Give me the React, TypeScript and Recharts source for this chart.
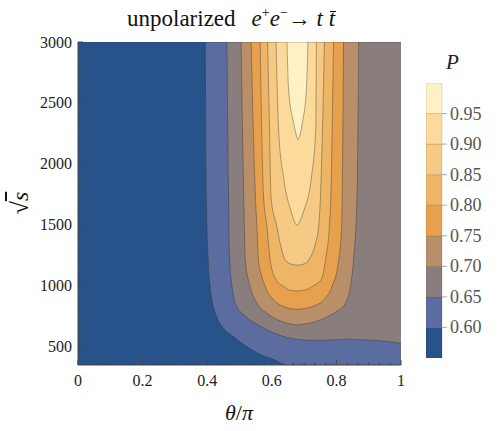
import { ComposedChart, Area, XAxis, YAxis, BarChart, Bar } from 'recharts';

const SERIF = 'Liberation Serif, Times New Roman, serif';
const FRAME = '#444';

const S_MIN = 350;
const S_MAX = 3000;

const xMajorTicks = [0, 0.2, 0.4, 0.6, 0.8, 1];
const yMajorTicks = [500, 1000, 1500, 2000, 2500, 3000];
const xMinorStep = 1 / 30;
const yMinorStep = 100;

// contour levels of P and the colour of each band between them
const levels = [0.55, 0.6, 0.65, 0.7, 0.75, 0.8, 0.85, 0.9, 0.95, 1.0];
const legendTicks = [0.6, 0.65, 0.7, 0.75, 0.8, 0.85, 0.9, 0.95];
const bandColors = ['#27538a', '#5b6ca0', '#8a7d7e', '#b98f6a', '#e7a14e', '#efb566', '#f6c985', '#fcda9c', '#fff1c4'];

// contour lines [theta/pi, sqrt(s)], read left to right along each curve
const contour60 = [
  [0.394, 3000], [0.397, 1796], [0.403, 1224], [0.41, 963], [0.419, 832], [0.431, 734],
  [0.45, 652], [0.481, 583], [0.524, 497], [0.571, 428], [0.614, 387], [0.642, 350], [1.0, 350],
];
const contour65 = [
  [0.461, 3000], [0.466, 1755], [0.469, 1248], [0.478, 979], [0.487, 856], [0.518, 750],
  [0.558, 677], [0.601, 619], [0.657, 570], [0.698, 556], [0.76, 552], [0.83, 562],
  [0.89, 555], [0.95, 545], [1.0, 527],
];
const contour70 = [
  [0.505, 3000], [0.513, 1755], [0.518, 1210], [0.533, 993], [0.554, 856], [0.585, 774],
  [0.632, 706], [0.655, 688], [0.678, 679], [0.705, 687], [0.735, 706], [0.791, 774],
  [0.828, 856], [0.843, 993], [0.853, 1210], [0.864, 1755], [0.869, 3000],
];
const contour75 = [
  [0.536, 3000], [0.549, 1755], [0.554, 1483], [0.559, 1210], [0.58, 993], [0.606, 883],
  [0.637, 829], [0.658, 812], [0.678, 807], [0.7, 812], [0.724, 829], [0.76, 883],
  [0.786, 993], [0.807, 1210], [0.816, 1483], [0.818, 1755], [0.822, 3000],
];
const contour80 = [
  [0.564, 3000], [0.574, 1755], [0.585, 1483], [0.595, 1210], [0.611, 1060], [0.637, 993],
  [0.657, 963], [0.678, 957], [0.7, 963], [0.724, 993], [0.755, 1060], [0.766, 1210],
  [0.778, 1483], [0.783, 1755], [0.791, 3000],
];
const contour85 = [
  [0.587, 3000], [0.592, 2400], [0.598, 1714], [0.616, 1483], [0.626, 1346], [0.642, 1210],
  [0.66, 1178], [0.679, 1169], [0.698, 1178], [0.714, 1210], [0.735, 1346], [0.745, 1483],
  [0.751, 1755], [0.758, 2400], [0.763, 3000],
];
const contour90 = [
  [0.613, 3000], [0.621, 2285], [0.637, 1877], [0.66, 1608], [0.668, 1540], [0.678, 1496],
  [0.689, 1540], [0.698, 1608], [0.722, 1877], [0.736, 2285], [0.738, 3000],
];
const contour95 = [
  [0.647, 3000], [0.652, 2612], [0.667, 2343], [0.675, 2245], [0.681, 2198], [0.688, 2245],
  [0.695, 2343], [0.707, 2612], [0.712, 3000],
];

const contours = [contour60, contour65, contour70, contour75, contour80, contour85, contour90, contour95];

const toRegion = (pts: number[][]) => pts.map(([t, s]) => ({ t, r: [s, S_MAX] }));
const background = [
  { t: 0, r: [S_MIN, S_MAX] },
  { t: 1, r: [S_MIN, S_MAX] },
];

const xTicks = Array.from({ length: Math.round(1 / xMinorStep) + 1 }, (_, i) => i * xMinorStep);
const yTicks = Array.from({ length: (S_MAX - 400) / yMinorStep + 1 }, (_, i) => 400 + i * yMinorStep);

const findMajor = (v: number, majors: number[]) => majors.find((m) => Math.abs(m - v) < 1e-6);

const labelStyle = { fontFamily: SERIF, fontSize: 16 };

function BottomTick({ x, y, payload }: any) {
  const m = findMajor(payload.value, xMajorTicks);
  return (
    <g>
      <line x1={x} x2={x} y1={y} y2={y - (m !== undefined ? 5 : 2.5)} stroke={FRAME} />
      {m !== undefined && (
        <text x={x} y={y + 21} textAnchor="middle" fill="#222" style={labelStyle}>
          {String(m)}
        </text>
      )}
    </g>
  );
}

function TopTick({ x, y, payload }: any) {
  const m = findMajor(payload.value, xMajorTicks);
  return <line x1={x} x2={x} y1={y} y2={y + (m !== undefined ? 5 : 2.5)} stroke={FRAME} />;
}

function LeftTick({ x, y, payload }: any) {
  const m = findMajor(payload.value, yMajorTicks);
  return (
    <g>
      <line x1={x} x2={x + (m !== undefined ? 5 : 2.5)} y1={y} y2={y} stroke={FRAME} />
      {m !== undefined && (
        <text x={x - 6} y={y + 5.5} textAnchor="end" fill="#222" style={labelStyle}>
          {String(m)}
        </text>
      )}
    </g>
  );
}

function RightTick({ x, y, payload }: any) {
  const m = findMajor(payload.value, yMajorTicks);
  return <line x1={x} x2={x - (m !== undefined ? 5 : 2.5)} y1={y} y2={y} stroke={FRAME} />;
}

function LegendTick({ x, y, payload }: any) {
  return (
    <text x={x} y={y + 6} textAnchor="start" fill="#555" style={{ fontFamily: SERIF, fontSize: 18 }}>
      {Number(payload.value).toFixed(2)}
    </text>
  );
}

const legendRow = [
  Object.fromEntries(
    bandColors.map((_, i) => [`b${i}`, i === 0 ? levels[1] : levels[i + 1] - levels[i]]),
  ),
];

export default function App() {
  return (
    <div style={{ position: 'absolute', left: 0, top: 0, width: 498, height: 431, background: '#fff', fontFamily: SERIF }}>
      <ComposedChart width={498} height={431} margin={{ top: 42, right: 97, bottom: 0, left: 0 }}>
        <XAxis
          dataKey="t"
          type="number"
          domain={[0, 1]}
          allowDataOverflow
          ticks={xTicks}
          interval={0}
          tick={BottomTick}
          tickSize={0}
          tickMargin={0}
          tickLine={false}
          axisLine={{ stroke: FRAME }}
          height={66}
        />
        <XAxis
          xAxisId="top"
          orientation="top"
          type="number"
          domain={[0, 1]}
          allowDataOverflow
          ticks={xTicks}
          interval={0}
          tick={TopTick}
          tickSize={0}
          tickMargin={0}
          tickLine={false}
          axisLine={{ stroke: FRAME }}
          height={0}
        />
        <YAxis
          type="number"
          domain={[S_MIN, S_MAX]}
          allowDataOverflow
          ticks={yTicks}
          interval={0}
          tick={LeftTick}
          tickSize={0}
          tickMargin={0}
          tickLine={false}
          axisLine={{ stroke: FRAME }}
          width={78}
        />
        <YAxis
          yAxisId="right"
          orientation="right"
          type="number"
          domain={[S_MIN, S_MAX]}
          allowDataOverflow
          ticks={yTicks}
          interval={0}
          tick={RightTick}
          tickSize={0}
          tickMargin={0}
          tickLine={false}
          axisLine={{ stroke: FRAME }}
          width={0}
        />
        <Area
          data={background}
          dataKey="r"
          type="linear"
          fill={bandColors[0]}
          fillOpacity={1}
          stroke="none"
          dot={false}
          activeDot={false}
          isAnimationActive={false}
        />
        {contours.map((c, i) => (
          <Area
            key={levels[i + 1]}
            data={toRegion(c)}
            dataKey="r"
            type="monotoneX"
            fill={bandColors[i + 1]}
            fillOpacity={1}
            stroke="#2a2a2a"
            strokeOpacity={0.55}
            strokeWidth={0.7}
            dot={false}
            activeDot={false}
            isAnimationActive={false}
          />
        ))}
      </ComposedChart>

      <div style={{ position: 'absolute', left: 426, top: 83 }}>
        <BarChart width={76} height={275} data={legendRow} margin={{ top: 0, right: 0, bottom: 0, left: 0 }} barCategoryGap={0}>
          <XAxis hide height={0} />
          <YAxis
            orientation="right"
            type="number"
            domain={[0.55, 1]}
            allowDataOverflow
            ticks={legendTicks}
            interval={0}
            tick={LegendTick}
            tickLine={{ stroke: '#aaa' }}
            tickSize={5}
            tickMargin={3}
            axisLine={false}
            width={60}
          />
          {bandColors.map((c, i) => (
            <Bar
              key={c}
              dataKey={`b${i}`}
              stackId="p"
              fill={c}
              stroke="#000"
              strokeOpacity={0.22}
              strokeWidth={0.6}
              isAnimationActive={false}
            />
          ))}
        </BarChart>
      </div>

      <div style={{ position: 'absolute', left: 127, top: 6, fontSize: 23, lineHeight: '26px', whiteSpace: 'nowrap', color: '#111' }}>
        unpolarized
        <span style={{ marginLeft: 16 }}>
          <i>e</i>
          <span style={{ position: 'relative', top: -9, fontSize: 14 }}>+</span>
          <i>e</i>
          <span style={{ position: 'relative', top: -9, fontSize: 14 }}>−</span>
          → <i>t</i>{' '}
          <span style={{ position: 'relative', display: 'inline-block' }}>
            <i>t</i>
            <span style={{ position: 'absolute', left: 1, right: -1, top: 5, height: 1.4, background: '#111' }} />
          </span>
        </span>
      </div>

      <div
        style={{
          position: 'absolute',
          left: 20,
          top: 203,
          fontSize: 24,
          lineHeight: '26px',
          whiteSpace: 'nowrap',
          color: '#111',
          transform: 'translate(-50%, -50%) rotate(-90deg)',
        }}
      >
        √<i style={{ textDecoration: 'overline' }}>s</i>
      </div>

      <div style={{ position: 'absolute', left: 139, width: 200, top: 401, textAlign: 'center', fontSize: 22, lineHeight: '24px', color: '#111' }}>
        <i>θ</i>/<i>π</i>
      </div>

      <div style={{ position: 'absolute', left: 446, top: 51, fontSize: 21, lineHeight: '22px', color: '#222' }}>
        <i>P</i>
      </div>
    </div>
  );
}
